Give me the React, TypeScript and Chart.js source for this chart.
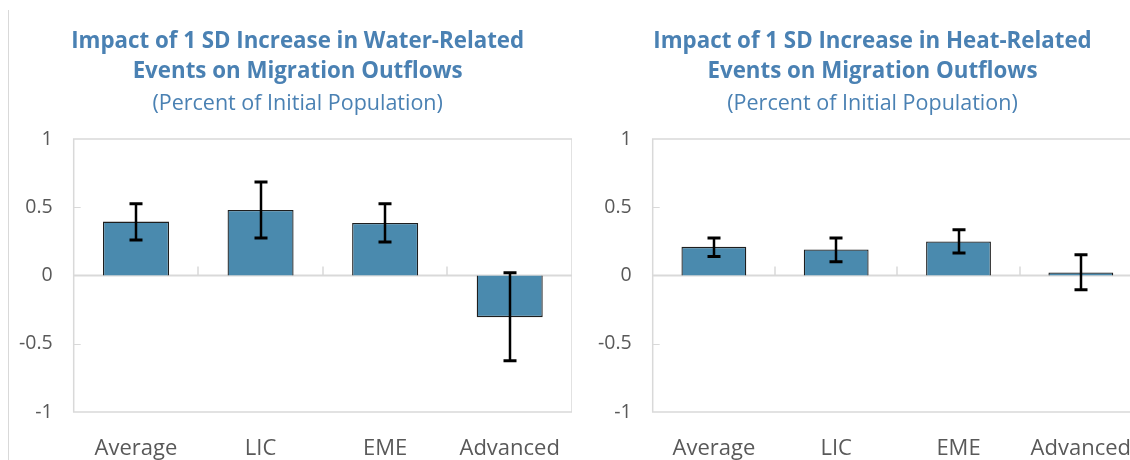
import React, { useEffect, useRef } from "react";
import { Chart, registerables } from "chart.js";

Chart.register(...registerables);

// ---- Data ----
const categories = ["Average", "LIC", "EME", "Advanced"];

const waterValues = [0.395, 0.48, 0.385, -0.305];
const waterLow = [0.26, 0.275, 0.245, -0.625];
const waterHigh = [0.525, 0.685, 0.525, 0.02];

const heatValues = [0.21, 0.19, 0.25, 0.022];
const heatLow = [0.14, 0.1, 0.165, -0.105];
const heatHigh = [0.275, 0.275, 0.335, 0.152];

const waterTitle = ["Impact of 1 SD Increase in Water-Related", "Events on Migration Outflows"];
const heatTitle = ["Impact of 1 SD Increase in Heat-Related", "Events on Migration Outflows"];
const subtitleText = "(Percent of Initial Population)";

const yTicks = [-1, -0.5, 0, 0.5, 1];

// ---- Styles ----
const FONT = "'Open Sans', 'Noto Sans', sans-serif";
const TITLE_COLOR = "#4a81b3";
const TICK_COLOR = "#595959";
const BAR_COLOR = "#4a8aae";
const FRAME_COLOR = "#d9d9d9";

const errorBarPlugin = {
  id: "errorBars",
  afterDatasetsDraw(chart: any, _args: any, opts: any) {
    const { ctx } = chart;
    const y = chart.scales.y;
    const meta = chart.getDatasetMeta(0);
    const low: number[] = opts.low || [];
    const high: number[] = opts.high || [];
    ctx.save();
    ctx.strokeStyle = "#000";
    meta.data.forEach((el: any, i: number) => {
      const x = Math.round(el.x);
      const yl = y.getPixelForValue(low[i]);
      const yh = y.getPixelForValue(high[i]);
      ctx.lineWidth = 2.5;
      ctx.beginPath();
      ctx.moveTo(x, yl);
      ctx.lineTo(x, yh);
      ctx.stroke();
      ctx.lineWidth = 3;
      ctx.beginPath();
      ctx.moveTo(x - 6.5, yl);
      ctx.lineTo(x + 6.5, yl);
      ctx.moveTo(x - 6.5, yh);
      ctx.lineTo(x + 6.5, yh);
      ctx.stroke();
    });
    ctx.restore();
  },
};

const framePlugin = {
  id: "frame",
  afterLayout(chart: any) {
    // let y tick labels extend left of the axis box without being clipped
    const y = chart.scales.y;
    if (y) y.left = 0;
  },
  beforeDatasetsDraw(chart: any) {
    const { ctx, chartArea } = chart;
    const { left, right, top, bottom } = chartArea;
    const x = chart.scales.x;
    const y = chart.scales.y;
    ctx.save();
    ctx.strokeStyle = FRAME_COLOR;
    ctx.lineWidth = 1.5;
    ctx.strokeRect(left, top, right - left, bottom - top);
    // y tick marks (inside)
    ctx.lineWidth = 1;
    [0.5, -0.5].forEach((v) => {
      const py = Math.round(y.getPixelForValue(v)) + 0.5;
      ctx.beginPath();
      ctx.moveTo(left, py);
      ctx.lineTo(left + 7, py);
      ctx.stroke();
    });
    // zero line
    const y0 = y.getPixelForValue(0);
    ctx.lineWidth = 2;
    ctx.beginPath();
    ctx.moveTo(left, y0);
    ctx.lineTo(right, y0);
    ctx.stroke();
    // category boundary ticks
    ctx.lineWidth = 1.5;
    for (let i = 1; i < categories.length; i++) {
      const bx = Math.round((x.getPixelForValue(i - 1) + x.getPixelForValue(i)) / 2);
      ctx.beginPath();
      ctx.moveTo(bx, y0);
      ctx.lineTo(bx, y0 - 9);
      ctx.stroke();
    }
    ctx.restore();
  },
};

type PanelProps = {
  title: string[];
  values: number[];
  low: number[];
  high: number[];
  left: number;
  width: number;
  padLeft: number;
  yWidth: number;
};

function Panel({ title, values, low, high, left, width, padLeft, yWidth }: PanelProps) {
  const ref = useRef<HTMLCanvasElement | null>(null);
  useEffect(() => {
    if (!ref.current) return;
    const chart = new Chart(ref.current, {
      type: "bar",
      data: {
        labels: categories,
        datasets: [
          {
            data: values,
            backgroundColor: BAR_COLOR,
            borderColor: "#1e1e1e",
            borderWidth: 1.3,
            barPercentage: 0.53,
            categoryPercentage: 1,
          },
        ],
      },
      options: {
        animation: false,
        responsive: false,
        maintainAspectRatio: false,
        layout: { padding: { left: padLeft, right: 0, top: 0, bottom: 0 } },
        plugins: {
          legend: { display: false },
          tooltip: { enabled: false },
          title: {
            display: true,
            text: title,
            color: TITLE_COLOR,
            font: { family: FONT, size: 22.3, weight: "bold", lineHeight: 30 / 22.3 },
            padding: { top: 27, bottom: 2 },
          },
          subtitle: {
            display: true,
            text: subtitleText,
            color: TITLE_COLOR,
            font: { family: FONT, size: 21.5, weight: "normal", lineHeight: 26 / 21.5 },
            padding: { top: 2, bottom: 22 },
          },
          errorBars: { low, high },
        } as any,
        scales: {
          x: {
            grid: { display: false, drawTicks: false },
            border: { display: false },
            ticks: { color: TICK_COLOR, font: { family: FONT, size: 22 }, padding: 24 },
            afterFit: (s: any) => {
              s.height = 48;
              s.paddingLeft = 0;
              s.paddingRight = 0;
            },
          },
          y: {
            min: -1,
            max: 1,
            afterBuildTicks: (s: any) => {
              s.ticks = yTicks.map((v) => ({ value: v }));
            },
            grid: { display: false, drawTicks: false },
            border: { display: false },
            ticks: {
              color: TICK_COLOR,
              font: { family: FONT, size: 19.5 },
              padding: 21,
              callback: (v: any) => String(v),
            },
            afterFit: (s: any) => {
              s.width = yWidth;
            },
          },
        },
      },
      plugins: [framePlugin, errorBarPlugin],
    });
    return () => chart.destroy();
  }, []);
  return (
    <canvas
      ref={ref}
      width={width}
      height={460}
      style={{ position: "absolute", left, top: 0, width, height: 460 }}
    />
  );
}

export default function App() {
  return (
    <div
      style={{
        position: "fixed",
        left: 0,
        top: 0,
        width: 1130,
        height: 460,
        overflow: "hidden",
        background: "#fff",
      }}
    >
      <div style={{ position: "absolute", left: 8, top: 10, width: 1, height: 450, background: FRAME_COLOR }} />
      <Panel title={waterTitle} values={waterValues} low={waterLow} high={waterHigh} left={15} width={557} padLeft={8.3} yWidth={50.4} />
      <Panel title={heatTitle} values={heatValues} low={heatLow} high={heatHigh} left={595} width={547} padLeft={8} yWidth={49.7} />
    </div>
  );
}
